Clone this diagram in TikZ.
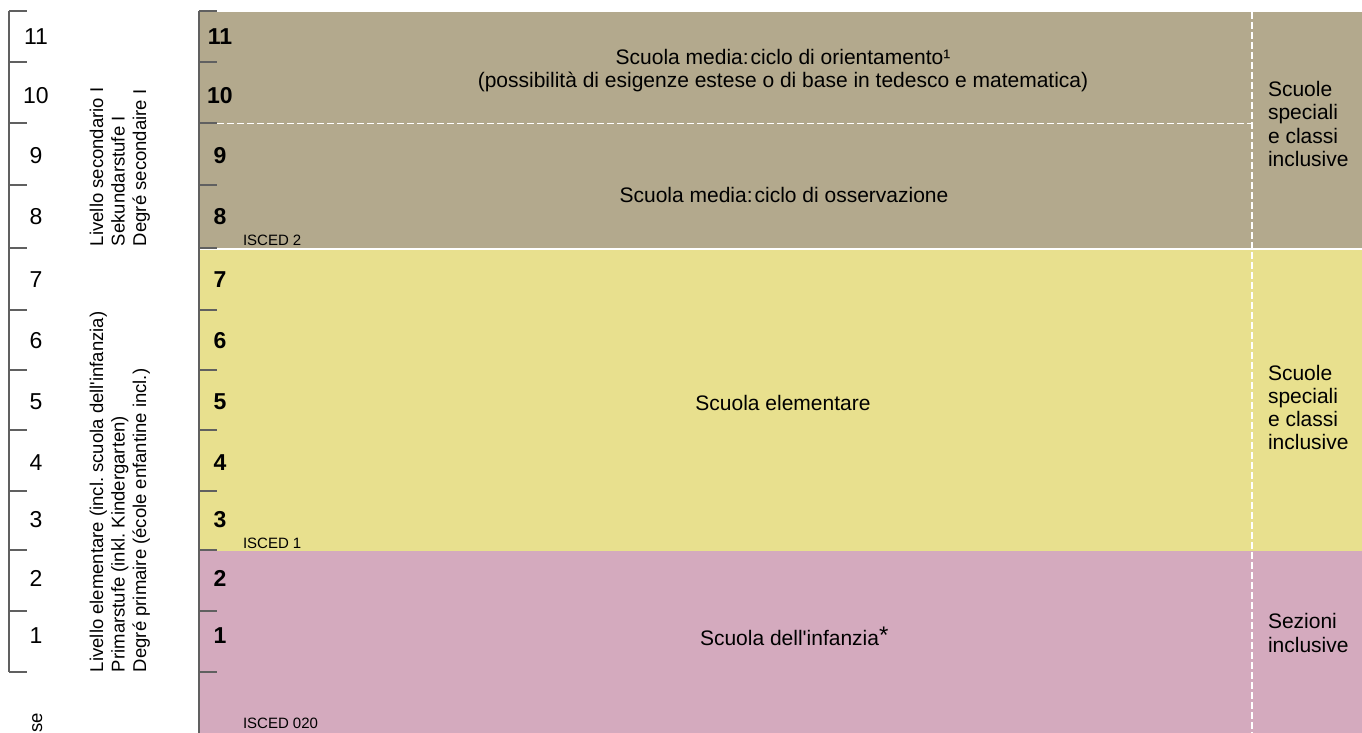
\documentclass[tikz,border=0pt]{standalone}
\usepackage{fontspec}
\newfontfamily\arial{Liberation Sans}
\definecolor{tanband}{RGB}{179,169,141}
\definecolor{yelband}{RGB}{232,224,142}
\definecolor{pnkband}{RGB}{212,170,190}
\definecolor{scalegray}{RGB}{96,96,96}
\frenchspacing
\begin{document}
\begin{tikzpicture}[x=1pt,y=-1pt,
  every node/.style={inner sep=0pt,outer sep=0pt},
  txt/.style={font=\arial\frenchspacing\fontsize{21}{23}\selectfont,text=black},
  numlbl/.style={font=\arial\fontsize{23}{23}\selectfont,text=black},
  bnumlbl/.style={font=\arial\bfseries\fontsize{23}{23}\selectfont,text=black},
  vtxt/.style={font=\arial\frenchspacing\fontsize{18.5}{22}\selectfont,rotate=90,anchor=base west,text=black},
  isced/.style={font=\arial\fontsize{15}{15}\selectfont,anchor=base west,text=black},
  scaleline/.style={draw=scalegray,line width=1.3pt},
  sepdash/.style={draw=white,line width=1.5pt,dash pattern=on 7pt off 3pt},
]
\useasboundingbox (0,0) rectangle (1362,733);
% bands
\fill[tanband] (200,12) rectangle (1362,249);
\fill[yelband] (200,249) rectangle (1362,551);
\fill[pnkband] (200,551) rectangle (1362,733);
\draw[white,line width=1.5pt] (200,249) -- (1362,249);
% dashed separators
\coordinate (hd1) at (217,123.5);
\coordinate (hd2) at (1252,123.5);
\coordinate (vd1) at (1252,12);
\coordinate (vd2) at (1252,733);
\draw[sepdash] (hd1) -- (hd2);
\draw[sepdash] (vd1) -- (vd2);
% scales
\draw[scaleline] (9,11) -- (9,672);
\draw[scaleline] (199,11) -- (199,733);
\foreach \yy in {11,62,123,185,248,310,370,430,491,550,611,672}{
  \draw[scaleline] (9,\yy) -- (27,\yy);
  \draw[scaleline] (199,\yy) -- (217,\yy);
}
% numbers
\foreach \n/\yy in {11/37,10/96,9/156,8/217,7/280,6/341,5/402,4/463,3/520,2/578,1/636}{
  \node[numlbl] (l\n) at (36,\yy) {\n};
  \node[bnumlbl] (b\n) at (220,\yy) {\n};
}
% vertical texts
\node[vtxt] (sec1) at (103,246) {Livello secondario I};
\node[vtxt] (sec2) at (124.5,246) {Sekundarstufe I};
\node[vtxt] (sec3) at (146,246) {Degré secondaire I};
\node[vtxt] (pri1) at (103,672) {Livello elementare (incl. scuola dell'infanzia)};
\node[vtxt] (pri2) at (124.5,672) {Primarstufe (inkl. Kindergarten)};
\node[vtxt] (pri3) at (146,672) {Degré primaire (école enfantine incl.)};
\node[vtxt,anchor=base east] (se) at (42,713) {se};
% ISCED labels
\node[isced] (is2) at (243,245) {ISCED 2};
\node[isced] (is1) at (243,548) {ISCED 1};
\node[isced] (is0) at (243,728) {ISCED 020};
% main texts
\node[txt,anchor=base] (orient1) at (783,65) {Scuola media:\hspace{2pt}ciclo di orientamento¹};
\node[txt,anchor=base] (orient2) at (783,88) {(possibilità di esigenze estese o di base in tedesco e matematica)};
\node[txt,anchor=base] (osserv) at (784,202) {Scuola media:\hspace{2pt}ciclo di osservazione};
\node[txt,anchor=base] (elem) at (783,410) {Scuola elementare};
\node[txt,anchor=base west] (infan) at (700,645) {Scuola dell'infanzia{\fontsize{24}{24}\selectfont\raisebox{2pt}{*}}};
% right column
\node[txt,anchor=base west] (r1a) at (1268,97) {Scuole};
\node[txt,anchor=base west] (r1b) at (1268,120) {speciali};
\node[txt,anchor=base west] (r1c) at (1268,143) {e classi};
\node[txt,anchor=base west] (r1d) at (1268,166) {inclusive};
\node[txt,anchor=base west] (r2a) at (1268,380) {Scuole};
\node[txt,anchor=base west] (r2b) at (1268,403) {speciali};
\node[txt,anchor=base west] (r2c) at (1268,426) {e classi};
\node[txt,anchor=base west] (r2d) at (1268,449) {inclusive};
\node[txt,anchor=base west] (r3a) at (1268,628) {Sezioni};
\node[txt,anchor=base west] (r3b) at (1268,652) {inclusive};
\end{tikzpicture}
\end{document}
